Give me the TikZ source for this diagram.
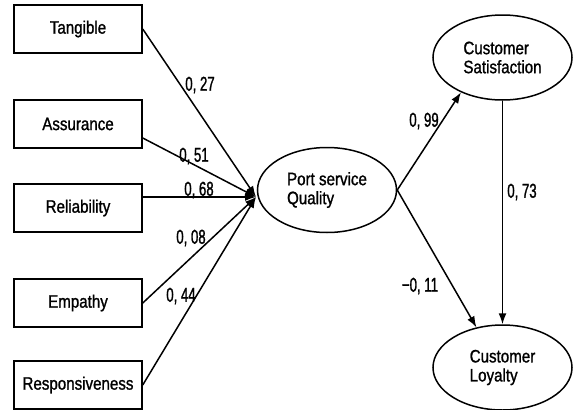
\documentclass[tikz,border=0pt]{standalone}
\usepackage{fontspec}
\setmainfont{Liberation Sans}[FakeStretch=0.84,FakeBold=1.2]
\newfontfamily\coeffont{Liberation Sans}[FakeStretch=0.66,FakeBold=1.2]
\usetikzlibrary{arrows.meta,shapes.geometric}

\begin{document}
\begin{tikzpicture}[x=1pt,y=-1pt,factor/.style={draw,line width=1.5pt,minimum width=128pt,minimum height=48pt,inner sep=0pt,font=\fontsize{18}{19}\selectfont},latent/.style={draw,ellipse,line width=1.5pt,minimum width=139pt,minimum height=85pt,inner sep=0pt,align=left,font=\fontsize{18}{19}\selectfont},link/.style={line width=1.5pt,-{Latex[length=11pt,width=8pt]}},coef/.style={inner sep=0pt,font=\coeffont\fontsize{20}{21}\selectfont}]
	\useasboundingbox (0,0) rectangle (574,410);
	% service quality dimensions
	\node[factor] (tang) at (78,29) {Tangible};
	\node[factor] (assur) at (78,124) {Assurance};
	\node[factor] (relia) at (78,208) {Reliability};
	\node[factor] (empat) at (78,303) {Empathy};
	\node[factor] (respo) at (78,385) {Responsiveness};
	% latent constructs
	\node[latent] (psq) at (327,190) {Port service\\Quality};
	\node[latent] (sat) at (502.5,57.5) {Customer\\Satisfaction};
	\node[latent] (loy) at (502.5,367.5) {Customer\\Loyalty};
	\coordinate (hub) at (256,197);
	% paths
	\draw[link] (tang.east) -- (hub);
	\draw[link] ([yshift=-14pt]assur.east) -- (hub);
	\draw[link] ([yshift=11pt]relia.east) -- (hub);
	\draw[link] (empat.east) -- (hub);
	\draw[link] (respo.east) -- (hub);
	\draw[link] (psq.east) -- (sat.220);
	\draw[link] (psq.east) -- (loy.123);
	\draw[link] (sat.south) -- (loy.north);
	% coefficients
	\node[coef] (c27) at (200,85) {0, 27};
	\node[coef] (c51) at (194,156) {0, 51};
	\node[coef] (c68) at (199,190) {0, 68};
	\node[coef] (c08) at (191,238) {0, 08};
	\node[coef] (c44) at (181,296) {0, 44};
	\node[coef] (c99) at (424,121) {0, 99};
	\node[coef] (c11) at (420,286) {−0, 11};
	\node[coef] (c73) at (522,192) {0, 73};
\end{tikzpicture}
\end{document}
